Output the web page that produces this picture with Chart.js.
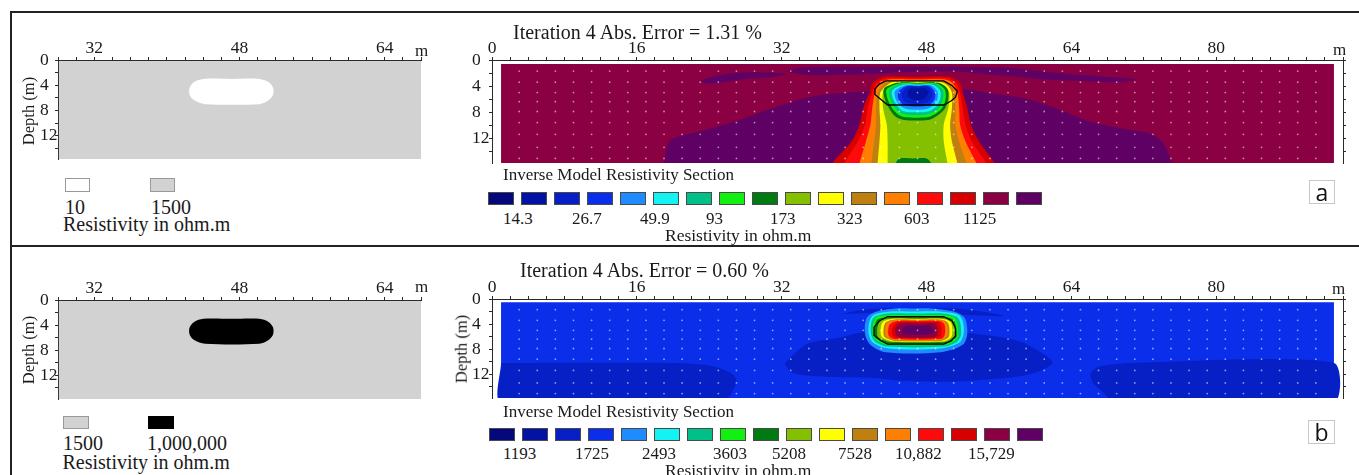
<!DOCTYPE html>
<html>
<head>
<meta charset="utf-8">
<script src="https://cdn.jsdelivr.net/npm/chart.js@4.4.1/dist/chart.umd.min.js"></script>
<style>
  body { margin: 0; width: 1359px; height: 475px; background: #fff; position: relative; overflow: hidden;
         font-family: 'Liberation Serif', 'Times New Roman', serif; color: #1a1a1a; }
  canvas { position: absolute; }
  .t { position: absolute; white-space: nowrap; line-height: 1; }
  .rule { position: absolute; background: #222; }
  .sw { position: absolute; box-sizing: border-box; border: 1px solid #4a4a4a; }
  .tag { position: absolute; box-sizing: border-box; border: 1px solid #c8c8c8; font-family: 'Open Sans', sans-serif;
         font-size: 23px; line-height: 22px; text-align: center; color: #111; }
</style>
</head>
<body>
<canvas id="modelA"></canvas>
<canvas id="sectionA"></canvas>
<canvas id="modelB"></canvas>
<canvas id="sectionB"></canvas>
<script>
// ---- axis labels
const MODEL_X_LABELS = [32, 48, 64];
const SECTION_X_LABELS = [0, 16, 32, 48, 64, 80];
const DEPTH_LABELS = [0, 4, 8, 12];

// ---- colour scale (17 classes, low -> high)
const CONTOUR_COLOURS = ['#04087a', '#0212a2', '#0620c6', '#0a2eea', '#1e8cff', '#14f2f2', '#00c088', '#12f012',
  '#007a12', '#84c000', '#ffff00', '#c08010', '#ff8000', '#ff0a0a', '#d60000', '#8a0042', '#5e0064'];
const SCALE_A_LABELS = ['14.3', '26.7', '49.9', '93', '173', '323', '603', '1125'];
const SCALE_B_LABELS = ['1193', '1725', '2493', '3603', '5208', '7528', '10,882', '15,729'];
const MODEL_A_KEY = ['10', '1500'];
const MODEL_B_KEY = ['1500', '1,000,000'];
const TITLE_A = 'Iteration 4 Abs. Error = 1.31 %';
const TITLE_B = 'Iteration 4 Abs. Error = 0.60 %';

// ---- datum points (x in m, depth in m)
const DATUM_X = [3, 5, 7, 9, 11, 13, 15, 17, 19, 21, 23, 25, 27, 29, 31, 33, 35, 37, 39, 41, 43, 45, 47,
  49, 51, 53, 55, 57, 59, 61, 63, 65, 67, 69, 71, 73, 75, 77, 79, 81, 83, 85, 87, 89, 91];
const DATUM_DEPTH = [1.7, 3.4, 5.0, 6.4, 7.9, 9.6, 11.4, 13.4, 15.1];

// ---- synthetic model: block rows [depth, xLeft, xRight]
const MODEL_EXTENT = [[28.1, 0.15], [68, 0.15], [68, 15.8], [28.1, 15.8]];
const BLOCK_ROWS = [[3.0, 44.0, 50.2], [3.5, 43.0, 51.2], [4.4, 42.5, 51.7], [5.5, 42.5, 51.7], [6.4, 43.0, 51.2], [7.0, 44.2, 50.2]];

// ---- inverse section a (background class 16)
const SECTION_A_EXTENT = [[1, 0.6], [93, 0.6], [93, 15.8], [1, 15.8]];
const A_PURPLE_DEEP = [[19.0, 16.5], [19.2, 14.0], [19.6, 12.5], [20.7, 11.7], [23.7, 10.7], [27.3, 9.2], [31.0, 7.4],
  [34.7, 5.8], [36.9, 5.3], [40, 4.9], [44, 4.6], [50, 4.4], [53, 4.6], [54.9, 5.1], [58.5, 5.8], [62.3, 7.4],
  [65.9, 9.4], [69.6, 10.5], [72.5, 11.2], [74.0, 12.5], [74.8, 14.6], [75.0, 16.5]];
const A_PURPLE_LENS = [[23.0, 3.2], [24.5, 2.5], [27, 2.0], [30, 1.9], [32.5, 2.1], [31, 2.6], [28, 2.9], [25.5, 3.4], [23.8, 3.6]];
const A_PURPLE_STREAK = [[32.5, 1.8], [34, 1.2], [38, 1.0], [44, 1.0], [50, 1.0], [54, 1.1], [57, 1.2], [60, 1.6], [64, 2.2],
  [68, 2.6], [71.2, 3.0], [69, 3.4], [65, 3.2], [61, 3.0], [57.5, 2.5], [54.5, 2.2], [52, 1.8], [47, 1.8], [42, 2.1], [38, 2.3], [35, 2.3]];
const A_RINGS = [
  [15, [[2.6, 43.2, 50.6], [3.6, 42.0, 51.7], [5.0, 41.7, 52.0], [7.4, 41.0, 52.5], [9.9, 40.6, 52.9], [12.5, 39.7, 53.8], [15.8, 37.6, 55.5], [16.5, 37.4, 55.6]]],
  [14, [[2.8, 43.5, 50.3], [3.6, 42.4, 51.3], [5.0, 42.0, 51.7], [7.4, 41.5, 52.0], [9.9, 41.2, 52.3], [12.5, 40.4, 53.0], [15.8, 38.9, 54.6], [16.5, 38.7, 54.7]]],
  [13, [[3.0, 43.8, 50.0], [3.6, 42.8, 50.9], [5.0, 42.3, 51.4], [7.4, 42.0, 51.6], [9.9, 41.8, 51.7], [12.5, 41.3, 52.3], [15.8, 40.6, 53.5], [16.5, 40.5, 53.6]]],
  [12, [[3.2, 44.1, 49.7], [3.8, 43.2, 50.6], [5.0, 42.6, 51.1], [7.4, 42.4, 51.2], [9.9, 42.4, 51.2], [12.5, 42.2, 51.6], [15.8, 41.9, 52.4], [16.5, 41.9, 52.5]]],
  [11, [[3.35, 44.4, 49.4], [3.9, 43.6, 50.3], [5.0, 42.9, 50.8], [7.4, 42.8, 50.8], [9.9, 42.9, 50.6], [12.5, 42.8, 50.8], [15.8, 42.6, 51.4], [16.5, 42.6, 51.5]]],
  [10, [[3.5, 44.7, 49.1], [4.0, 44.0, 50.0], [5.0, 43.2, 50.5], [7.4, 43.2, 50.4], [9.9, 43.6, 49.9], [12.5, 43.7, 49.9], [15.8, 43.7, 50.3], [16.5, 43.7, 50.3]]],
  [9, [[3.5, 44.8, 49.3], [4.4, 43.3, 50.3], [6.0, 43.4, 50.4], [7.5, 43.9, 50.0], [8.7, 44.6, 49.0], [9.2, 45.5, 48.2]]],
  [8, [[3.6, 45.0, 49.1], [4.5, 43.6, 50.0], [6.0, 43.7, 50.1], [7.4, 44.2, 49.7], [8.4, 44.9, 48.8], [8.8, 45.7, 48.0]]],
  [7, [[3.7, 45.2, 48.9], [4.6, 43.9, 49.8], [6.0, 44.0, 49.8], [7.3, 44.5, 49.4], [8.1, 45.1, 48.6], [8.4, 45.9, 47.8]]],
  [6, [[3.8, 45.4, 48.7], [4.7, 44.2, 49.5], [6.0, 44.3, 49.5], [7.1, 44.8, 49.1], [7.8, 45.3, 48.4], [8.0, 46.0, 47.7]]],
  [5, [[3.9, 45.6, 48.5], [4.8, 44.5, 49.2], [6.0, 44.6, 49.2], [6.9, 45.0, 48.8], [7.4, 45.6, 48.2], [7.6, 46.2, 47.6]]],
  [4, [[4.0, 45.8, 48.3], [4.9, 44.9, 48.9], [6.0, 44.9, 48.9], [6.8, 45.4, 48.4], [7.1, 46.2, 47.7]]],
  [3, [[4.1, 46.0, 48.1], [5.0, 45.3, 48.6], [6.0, 45.4, 48.5], [6.6, 46.0, 47.8]]],
  [2, [[4.3, 46.3, 47.8], [5.0, 45.9, 48.2], [5.8, 46.1, 47.9], [6.1, 46.6, 47.4]]],
  [9, [[15.1, 45.0, 48.0], [15.8, 44.6, 48.5], [16.5, 44.5, 48.6]]]
];
const A_OUTLINE = [[43.5, 3.2], [49.9, 3.2], [50.8, 3.9], [51.4, 4.8], [51.2, 5.7], [50.7, 6.3], [49.9, 6.9],
  [43.7, 6.9], [43.0, 6.1], [42.3, 5.3], [42.3, 4.4], [42.8, 3.7]];

// ---- inverse section b (background class 4)
const SECTION_B_EXTENT = [[1, 0.5], [93, 0.5], [93, 15.8], [1, 15.8]];
const B_DARK_LEFT = [[1, 10.2], [20.4, 10.2], [23.5, 10.5], [25.1, 11.0], [26.6, 12.0], [27, 13.0], [26.6, 14.6], [25.5, 16.5], [1, 16.5]];
const B_DARK_MID = [[32.3, 10.3], [33.5, 8.6], [35.1, 7.0], [38.7, 6.1], [40.6, 5.4], [44, 5.0], [50, 5.0], [52.4, 5.4],
  [57.9, 6.6], [60.8, 8.7], [61.9, 10.2], [59.7, 11.9], [56, 12.7], [50.5, 13.2], [45, 13.0], [42.4, 12.6], [36.9, 12.4], [33.2, 11.8]];
const B_DARK_RIGHT = [[68.5, 16.5], [67.6, 15.0], [66.4, 13.4], [66.1, 12.0], [67, 10.8], [70.7, 10.2], [93, 10.2], [93, 16.5]];
const B_DARK_TOP = [[38.5, 2.4], [41, 1.7], [46, 1.4], [51, 1.5], [54, 2.0], [56.5, 2.7], [53, 2.6], [48, 2.1], [43, 2.2]];
const B_RINGS = [
  [5, [[1.5, 44.5, 48.5], [2.0, 42.5, 51.0], [3.0, 41.4, 52.2], [5.5, 41.2, 52.5], [7.3, 41.8, 52.0], [8.5, 43.5, 49.5]]],
  [6, [[2.0, 44.0, 49.5], [2.5, 42.2, 51.5], [3.5, 41.7, 52.0], [5.5, 41.6, 52.1], [7.0, 42.1, 51.6], [7.9, 43.8, 49.5]]],
  [7, [[2.3, 43.8, 49.8], [2.8, 42.3, 51.3], [3.7, 41.9, 51.7], [5.8, 41.9, 51.8], [6.9, 42.4, 51.3], [7.6, 43.8, 49.8]]],
  [8, [[2.6, 43.6, 50.0], [3.1, 42.3, 51.2], [6.0, 42.1, 51.5], [6.9, 42.8, 50.9], [7.3, 43.8, 50.0]]],
  [9, [[2.9, 43.7, 50.0], [3.4, 42.5, 51.0], [6.0, 42.3, 51.3], [6.8, 43.2, 50.7], [7.1, 44.0, 49.9]]],
  [10, [[3.1, 43.9, 49.9], [3.6, 42.8, 50.9], [6.0, 42.6, 51.1], [6.7, 43.5, 50.4], [6.9, 44.2, 49.7]]],
  [11, [[3.2, 44.1, 49.8], [3.8, 43.1, 50.7], [5.9, 43.0, 50.8], [6.6, 43.8, 50.2], [6.8, 44.4, 49.6]]],
  [12, [[3.3, 44.3, 49.7], [3.9, 43.4, 50.4], [5.9, 43.3, 50.5], [6.5, 44.0, 50.0], [6.7, 44.6, 49.5]]],
  [13, [[3.4, 44.5, 49.6], [4.0, 43.6, 50.2], [5.8, 43.5, 50.3], [6.4, 44.2, 49.8], [6.6, 44.8, 49.4]]],
  [14, [[3.5, 44.7, 49.5], [4.1, 43.9, 50.0], [5.8, 43.8, 50.0], [6.4, 44.4, 49.6]]],
  [15, [[3.7, 44.9, 49.3], [4.3, 44.3, 49.6], [5.7, 44.2, 49.6], [6.2, 44.7, 49.3]]],
  [16, [[3.9, 45.1, 49.0], [4.5, 44.6, 49.2], [5.6, 44.6, 49.2], [6.1, 45.0, 48.9]]],
  [17, [[4.3, 45.6, 48.5], [5.5, 45.4, 48.6]]]
];
const B_OUTLINE = [[43.7, 2.8], [49.9, 2.8], [50.8, 3.5], [51.2, 4.6], [51.2, 5.9], [50.7, 6.7], [49.9, 7.2],
  [43.7, 7.2], [43.0, 6.7], [42.2, 5.8], [42.2, 4.5], [42.8, 3.5]];

// ---- layout (page pixels)
const SCALE_A_LEFT = [503, 572, 640, 706, 770, 837, 904, 963];
const SCALE_B_LEFT = [503, 575, 642, 713, 772, 838, 895, 968];
const FONT = "'Liberation Serif', 'Times New Roman', serif";

function rowsToShape(rows) {
  const top = rows[0];
  const pts = [{ x: (top[1] + top[2]) / 2, y: top[0] }];
  rows.forEach(r => pts.push({ x: r[1], y: r[0] }));
  for (let i = rows.length - 1; i >= 0; i--) pts.push({ x: rows[i][2], y: rows[i][0] });
  pts.push(pts[0]);
  return pts;
}

function listToShape(list) {
  const pts = list.map(p => ({ x: p[0], y: p[1] }));
  pts.push(pts[0]);
  return pts;
}

function patch(data, colour, tension) {
  return { data, fill: 'shape', backgroundColor: colour, borderColor: colour, borderWidth: 0,
           pointRadius: 0, tension: tension || 0 };
}

function outline(list) {
  return { data: listToShape(list), fill: false, borderColor: '#000', borderWidth: 1.3, pointRadius: 0, tension: 0 };
}

function datumDots() {
  const pts = [];
  DATUM_DEPTH.forEach(d => DATUM_X.forEach(x => pts.push({ x, y: d })));
  return { data: pts, showLine: false, pointRadius: 0.9, pointBorderWidth: 0,
           pointBackgroundColor: 'rgba(255,255,255,0.55)' };
}

function makeChart(id, geo, xMin, xMax, yMax, xLabels, rightAxis, layers) {
  const cv = document.getElementById(id);
  cv.width = geo.w; cv.height = geo.h;
  cv.style.left = geo.l + 'px'; cv.style.top = geo.t + 'px';
  cv.style.width = geo.w + 'px'; cv.style.height = geo.h + 'px';
  const padLeft = geo.labelX - geo.l;
  const leftW = geo.area.left - geo.labelX;
  const topH = geo.area.top - geo.t;
  const rightW = geo.l + geo.w - geo.area.right;
  const bottomPad = geo.t + geo.h - geo.area.bottom;
  const line = { display: true, color: '#2a2a2a', width: 1 };
  const grid = { drawOnChartArea: false, drawTicks: true, tickLength: 3, color: '#2a2a2a' };
  const font = { family: FONT, size: 17.5, lineHeight: 1 };

  const scales = {
    x: {
      type: 'linear', position: 'top', min: xMin, max: xMax, grid, border: line,
      ticks: { stepSize: 2, autoSkip: false, maxRotation: 0, minRotation: 0, includeBounds: false, padding: 0,
               color: '#1a1a1a', font, callback: v => xLabels.includes(v) ? String(v) : '' },
      afterFit: s => { s.height = topH; s.paddingLeft = 0; s.paddingRight = 0; }
    },
    y: {
      type: 'linear', position: 'left', reverse: true, min: 0, max: yMax, grid, border: line,
      ticks: { stepSize: 2, autoSkip: false, includeBounds: false, crossAlign: 'far', padding: 0,
               color: '#1a1a1a', font, callback: v => DEPTH_LABELS.includes(v) ? String(v) : '' },
      afterFit: s => { s.width = leftW; s.paddingTop = 0; s.paddingBottom = 0; }
    }
  };
  if (rightAxis) {
    scales.y2 = {
      type: 'linear', position: 'right', reverse: true, min: 0, max: yMax, grid, border: line,
      ticks: { stepSize: 2, autoSkip: false, includeBounds: false, padding: 0, font, callback: () => '' },
      afterFit: s => { s.width = rightW; s.paddingTop = 0; s.paddingBottom = 0; }
    };
  }

  new Chart(cv.getContext('2d'), {
    type: 'line',
    data: { datasets: layers.map((d, i) => Object.assign({ order: -i }, d)) },
    options: {
      responsive: false, animation: false, events: [],
      layout: { autoPadding: false, padding: { left: padLeft, top: 0, right: rightAxis ? 0 : rightW, bottom: bottomPad } },
      plugins: { legend: { display: false }, tooltip: { enabled: false } },
      scales
    }
  });
}

function put(text, x, y, size, style) {
  const d = document.createElement('div');
  d.className = 't';
  d.textContent = text;
  d.style.left = x + 'px';
  d.style.top = y + 'px';
  d.style.fontSize = size + 'px';
  if (style) Object.assign(d.style, style);
  document.body.appendChild(d);
  return d;
}

function box(cls, x, y, w, h, bg) {
  const d = document.createElement('div');
  d.className = cls;
  Object.assign(d.style, { left: x + 'px', top: y + 'px', width: w + 'px', height: h + 'px' });
  if (bg) d.style.background = bg;
  document.body.appendChild(d);
  return d;
}

function depthTitle(cx, cy) {
  put('Depth (m)', cx, cy, 16.5, { transform: 'translate(-50%,-50%) rotate(-90deg)' });
}

// ---- frame
box('rule', 11, 11, 1348, 2);
box('rule', 10, 11, 2, 464);
box('rule', 11, 245, 1348, 2);

// ---- model panels
const C = CONTOUR_COLOURS;
makeChart('modelA', { l: 14, t: 20, w: 426, h: 145, labelX: 40, area: { left: 58, top: 60, right: 421, bottom: 159 } },
  28, 68, 15.7, MODEL_X_LABELS, false,
  [patch(listToShape(MODEL_EXTENT), '#d2d2d2'), patch(rowsToShape(BLOCK_ROWS), '#ffffff', 0.3)]);
makeChart('modelB', { l: 14, t: 260, w: 426, h: 145, labelX: 40, area: { left: 58, top: 300, right: 421, bottom: 399 } },
  28, 68, 15.8, MODEL_X_LABELS, false,
  [patch(listToShape(MODEL_EXTENT), '#d2d2d2'), patch(rowsToShape(BLOCK_ROWS), '#000000', 0.3)]);

// ---- inverse sections
const layersA = [
  patch(listToShape(SECTION_A_EXTENT), C[15]),
  patch(listToShape(A_PURPLE_DEEP), C[16], 0.3),
  patch(listToShape(A_PURPLE_LENS), C[16], 0.35),
  patch(listToShape(A_PURPLE_STREAK), C[16], 0.35)
];
A_RINGS.forEach(r => layersA.push(patch(rowsToShape(r[1]), C[r[0] - 1], 0.3)));
layersA.push(datumDots(), outline(A_OUTLINE));
makeChart('sectionA', { l: 460, t: 20, w: 899, h: 146, labelX: 472, area: { left: 492, top: 60, right: 1343, bottom: 163 } },
  0, 94, 15.8, SECTION_X_LABELS, true, layersA);

const layersB = [
  patch(listToShape(SECTION_B_EXTENT), C[3]),
  patch(listToShape(B_DARK_LEFT), C[2], 0.25),
  patch(listToShape(B_DARK_MID), C[2], 0.3),
  patch(listToShape(B_DARK_RIGHT), C[2], 0.25),
  patch(listToShape(B_DARK_TOP), C[2], 0.35)
];
B_RINGS.forEach(r => layersB.push(patch(rowsToShape(r[1]), C[r[0] - 1], 0.3)));
layersB.push(datumDots(), outline(B_OUTLINE));
makeChart('sectionB', { l: 460, t: 259, w: 899, h: 145, labelX: 472, area: { left: 492, top: 299, right: 1343, bottom: 398 } },
  0, 94, 15.8, SECTION_X_LABELS, true, layersB);

// ---- texts, keys
depthTitle(28.5, 111);
depthTitle(28.5, 350);
depthTitle(462, 349);
put('m', 415, 42, 17);
put('m', 1333, 40.5, 17);
put('m', 415, 277.5, 17);
put('m', 1332, 279.5, 17);

put(TITLE_A, 513, 21.5, 20);
put(TITLE_B, 520, 260, 20);
put('Inverse Model Resistivity Section', 503, 166.3, 17);
put('Inverse Model Resistivity Section', 503, 403, 17);

C.forEach((c, i) => box('sw', 488 + 33 * i, 192, 26, 13, c));
C.forEach((c, i) => box('sw', 489 + 33 * i, 427.5, 26, 13.5, c));
SCALE_A_LABELS.forEach((s, i) => put(s, SCALE_A_LEFT[i], 210.3, 17));
SCALE_B_LABELS.forEach((s, i) => put(s, SCALE_B_LEFT[i], 445.3, 17));
put('Resistivity in ohm.m', 665, 227, 17.5);
put('Resistivity in ohm.m', 665, 462, 17.5);

const kA1 = box('sw', 65, 178, 25, 14, '#ffffff'); kA1.style.borderColor = '#999';
const kA2 = box('sw', 150, 178, 25, 14, '#d2d2d2'); kA2.style.borderColor = '#999';
put(MODEL_A_KEY[0], 65, 196.5, 20);
put(MODEL_A_KEY[1], 151, 196.5, 20);
put('Resistivity in ohm.m', 63, 213.5, 20);

const kB1 = box('sw', 63, 416, 26, 13, '#d2d2d2'); kB1.style.borderColor = '#999';
const kB2 = box('sw', 148, 416, 26, 13, '#000000'); kB2.style.borderColor = '#000';
put(MODEL_B_KEY[0], 63, 433, 20);
put(MODEL_B_KEY[1], 147, 433, 20);
put('Resistivity in ohm.m', 62.5, 451.5, 20);

const tagA = box('tag', 1309, 180, 26, 24); tagA.textContent = 'a';
const tagB = box('tag', 1308, 420, 27, 24); tagB.textContent = 'b';
</script>
</body>
</html>
